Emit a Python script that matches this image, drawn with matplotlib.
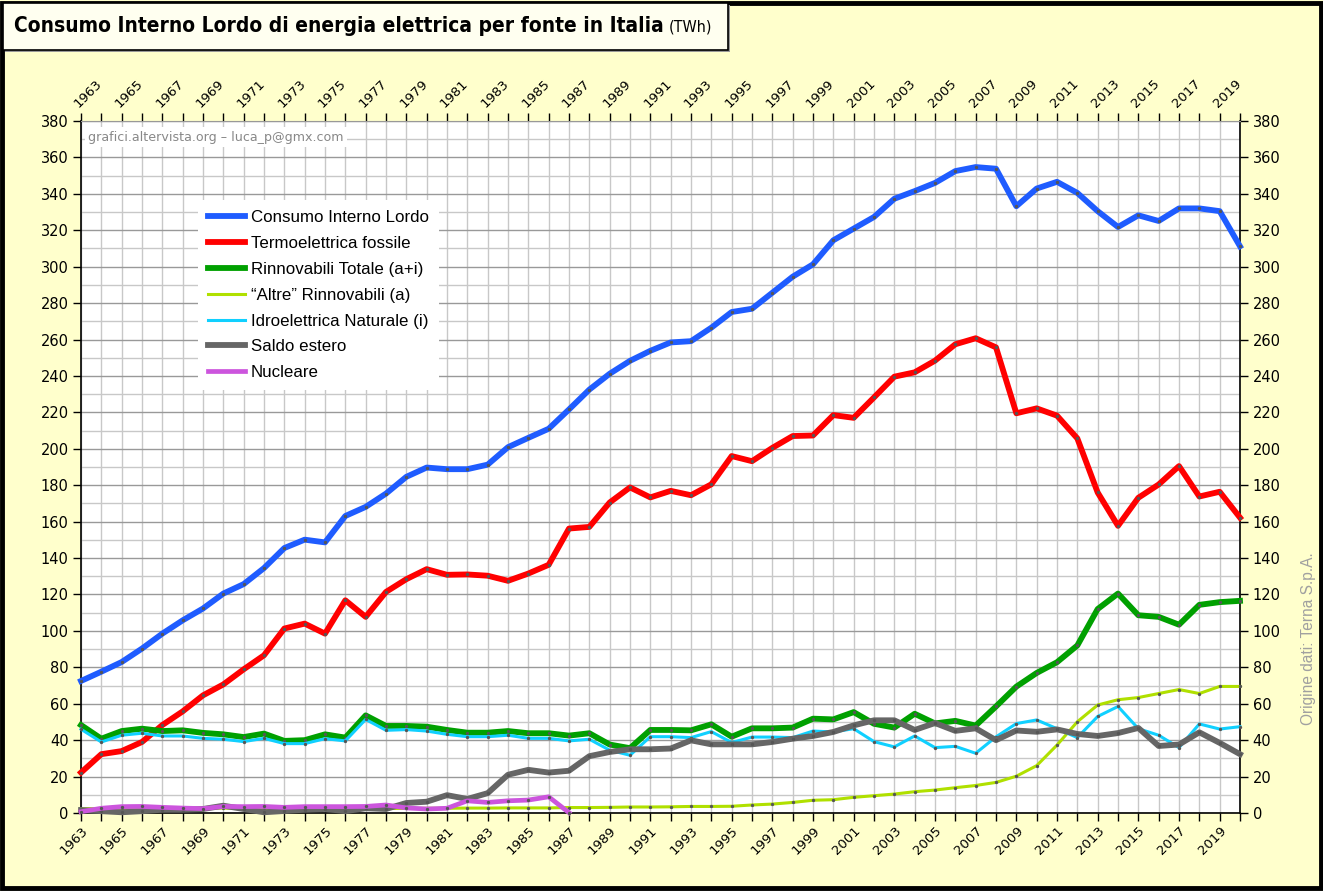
import matplotlib
matplotlib.use("Agg")
import matplotlib.pyplot as plt
from matplotlib.patches import Rectangle
from matplotlib.ticker import MultipleLocator
import numpy as np

years = list(range(1963, 2021))

consumo = [72.5, 77.6, 82.9, 90.3, 98.5, 105.8, 112.3, 120.5, 125.7, 134.5,
           145.5, 150.1, 148.6, 163.1, 168.1, 175.4, 184.6, 189.7, 188.8, 188.8,
           191.3, 200.9, 206.0, 211.0, 221.6, 232.5, 241.2, 248.3, 253.8, 258.4,
           259.1, 266.5, 275.1, 276.9, 285.7, 294.5, 301.3, 314.5, 320.9, 327.3,
           337.3, 341.5, 346.0, 352.5, 354.7, 353.8, 333.2, 342.9, 346.6, 340.5,
           330.5, 321.8, 328.2, 325.1, 332.0, 332.0, 330.5, 311.2]

termo = [22.2, 32.3, 34.0, 39.0, 48.3, 55.8, 64.6, 70.6, 78.9, 86.6,
         101.3, 104.0, 98.5, 116.8, 107.7, 121.4, 128.4, 133.9, 130.8, 131.0,
         130.3, 127.5, 131.5, 136.3, 156.2, 157.1, 170.5, 178.8, 173.3, 176.9,
         174.5, 180.5, 196.0, 193.2, 200.5, 207.0, 207.3, 218.5, 217.0, 228.2,
         239.6, 242.0, 248.4, 257.4, 260.7, 255.7, 219.5, 222.2, 218.2, 205.7,
         176.0, 157.7, 173.1, 180.4, 190.5, 173.8, 176.4, 162.2]

rinnov = [48.3, 40.8, 45.0, 46.3, 45.0, 45.4, 44.0, 43.2, 41.7, 43.6,
          39.6, 40.0, 43.2, 41.4, 53.6, 47.8, 47.8, 47.4, 45.6, 44.1,
          44.1, 45.0, 43.8, 43.8, 42.5, 43.8, 37.6, 35.6, 45.6, 45.6,
          45.4, 48.7, 41.9, 46.5, 46.5, 46.9, 51.8, 51.4, 55.4, 49.0,
          46.9, 54.5, 49.2, 50.6, 48.0, 58.5, 69.4, 76.9, 82.8, 92.0,
          112.0, 120.5, 108.6, 107.7, 103.4, 114.3, 115.8, 116.5]

altre = [2.3, 2.4, 2.5, 2.5, 2.6, 2.6, 2.6, 2.7, 2.5, 2.5,
         2.3, 2.4, 2.5, 2.5, 2.5, 2.5, 2.5, 2.6, 2.6, 2.7,
         2.7, 2.8, 2.8, 2.8, 3.0, 3.0, 3.1, 3.3, 3.3, 3.4,
         3.6, 3.6, 3.7, 4.4, 4.9, 5.8, 7.0, 7.3, 8.6, 9.5,
         10.4, 11.7, 12.6, 13.9, 15.1, 16.8, 20.2, 26.0, 37.3, 50.1,
         59.3, 62.2, 63.4, 65.6, 67.8, 65.6, 69.5, 69.5]

idro = [46.0, 39.0, 42.7, 43.8, 42.3, 42.3, 41.0, 40.5, 39.2, 41.0,
        38.1, 38.1, 40.8, 39.6, 51.4, 45.4, 45.8, 45.0, 43.2, 41.9,
        41.9, 42.7, 41.0, 41.0, 39.6, 40.5, 34.5, 31.7, 41.9, 41.9,
        41.4, 44.7, 38.7, 41.7, 41.7, 41.4, 45.0, 44.5, 46.3, 39.2,
        36.3, 42.3, 35.9, 36.6, 32.8, 41.8, 49.1, 51.1, 46.3, 41.4,
        53.0, 58.5, 46.3, 42.7, 35.9, 48.9, 46.1, 47.4]

saldo = [1.6, 1.0, 0.4, 1.0, 1.8, 1.8, 2.2, 4.0, 2.2, 0.4,
         1.1, 1.8, 2.2, 1.0, 2.6, 2.2, 5.5, 6.2, 9.8, 7.7,
         10.9, 21.0, 23.7, 22.2, 23.2, 31.2, 33.5, 35.0, 35.0, 35.4,
         39.9, 37.7, 37.7, 37.7, 39.0, 40.8, 42.3, 44.5, 48.1, 50.9,
         50.9, 45.6, 49.4, 45.1, 46.5, 40.0, 45.3, 44.6, 45.9, 43.4,
         42.3, 43.9, 46.7, 36.8, 37.6, 44.3, 38.5, 32.3]

nucl_years = list(range(1963, 1988))
nucleare = [0.7, 2.6, 3.5, 3.6, 3.1, 2.7, 2.4, 3.6, 3.5, 3.6,
            3.1, 3.5, 3.5, 3.5, 3.6, 4.4, 2.8, 2.2, 2.6, 6.7,
            5.8, 6.7, 7.1, 8.9, 0.2]

labels = ["Consumo Interno Lordo", "Termoelettrica fossile", "Rinnovabili Totale (a+i)",
          "\u201cAltre\u201d Rinnovabili (a)", "Idroelettrica Naturale (i)", "Saldo estero", "Nucleare"]

W, H = 1323, 891
fig = plt.figure(figsize=(W / 100, H / 100), dpi=100)
fig.patch.set_facecolor("#FFFFCC")

# outer border
fig.patches.append(Rectangle((0.0015, 0.003), 0.997, 0.994, transform=fig.transFigure,
                             fill=False, edgecolor="black", linewidth=3.5))

# title box
fig.patches.append(Rectangle((5 / W, 1 - 52 / H), 725 / W, 47 / H, transform=fig.transFigure,
                             facecolor="#999999", edgecolor="none", zorder=1))
fig.patches.append(Rectangle((3 / W, 1 - 50 / H), 725 / W, 47 / H, transform=fig.transFigure,
                             facecolor="#FFFFF0", edgecolor="black", linewidth=1.2, zorder=2))
t1 = fig.text(14 / W, 1 - 26 / H, "Consumo Interno Lordo di energia elettrica per fonte in Italia",
              fontsize=15.05, fontweight="bold", fontstretch="condensed", family="DejaVu Sans",
              va="center", ha="left", zorder=3)

ax = fig.add_axes([81 / W, 1 - 813 / H, 1159 / W, 692 / H])
ax.set_facecolor("white")
ax.set_xlim(1963, 2020)
ax.set_ylim(0, 380)

styles = [
    (consumo, "#1F5CFF", 4.2),
    (termo, "#FF0000", 4.2),
    (rinnov, "#00A000", 4.2),
    (altre, "#B0E000", 2.2),
    (idro, "#10D0FF", 2.2),
    (saldo, "#666666", 4.2),
]
handles = []
for (vals, col, lw), lab in zip(styles, labels[:6]):
    h, = ax.plot(years, vals, color=col, lw=lw, solid_joinstyle="round",
                 marker="o", markersize=2.4, markerfacecolor="#555555",
                 markeredgewidth=0, label=lab, zorder=3, clip_on=False)
    handles.append(h)
h, = ax.plot(nucl_years, nucleare, color="#CC55DD", lw=3.4, marker="o", markersize=2.4,
             markerfacecolor="#555555", markeredgewidth=0, label=labels[6], zorder=3, clip_on=False)
handles.append(h)

# grid
ax.yaxis.set_major_locator(MultipleLocator(20))
ax.yaxis.set_minor_locator(MultipleLocator(10))
ax.set_xticks(years)
ax.grid(axis="y", which="major", color="#999999", lw=1.0, zorder=0)
ax.grid(axis="y", which="minor", color="#C8C8C8", lw=1.0, zorder=0)
ax.grid(axis="x", which="major", color="#C8C8C8", lw=1.0, zorder=0)
ax.set_axisbelow(True)

xlabels = [str(y) if y % 2 == 1 and y < 2020 else "" for y in years]
ax.set_xticklabels(xlabels)
ax.tick_params(axis="x", which="major", direction="out", length=6, width=1,
               top=True, labeltop=True, labelsize=9.5, pad=2)
ax.tick_params(axis="y", which="major", direction="out", length=6, width=1,
               right=True, labelright=True, labelsize=10.5, pad=3)
ax.tick_params(axis="y", which="minor", length=0)
for tick in ax.xaxis.get_major_ticks():
    tick.label1.set_rotation(45)
    tick.label1.set_ha("right")
    tick.label1.set_va("top")
    tick.label1.set_rotation_mode("anchor")
    tick.label2.set_rotation(45)
    tick.label2.set_ha("left")
    tick.label2.set_va("bottom")
    tick.label2.set_rotation_mode("anchor")

for sp in ["left", "right", "bottom"]:
    ax.spines[sp].set_color("black")
    ax.spines[sp].set_linewidth(1.2)
ax.spines["top"].set_color("#999999")

# watermark
ax.text(0.006, 0.986, "grafici.altervista.org \u2013 luca_p@gmx.com", transform=ax.transAxes,
        fontsize=9.1, color="#888888", family="DejaVu Sans", va="top", ha="left",
        bbox=dict(facecolor="white", edgecolor="none", pad=2.5), zorder=4)

# source text
fig.text(1309 / W, 1 - 639 / H, "Origine dati: Terna S.p.A.", rotation=90, fontsize=11.2,
         color="#A0A0A0", family="Liberation Sans", va="center", ha="center")

leg = ax.legend(handles=handles, loc="upper left", bbox_to_anchor=((198 - 81) / 1159, (813 - 200) / 692),
                frameon=True, fancybox=False, facecolor="white", edgecolor="none", framealpha=1,
                prop={"family": "Liberation Sans", "size": 12.2}, handlelength=2.2,
                handletextpad=0.3, labelspacing=0.64, borderpad=0.6, borderaxespad=0)
leg.set_zorder(5)
for lh in leg.get_lines():
    lh.set_marker("")

fig.canvas.draw()
bb = t1.get_window_extent()
x_end = bb.x1 / W
fig.text(x_end + 5 / W, 1 - 27 / H, "(TWh)", fontsize=11.5, family="DejaVu Sans",
         fontstretch="condensed", va="center", ha="left", zorder=3)

fig.savefig("out.png", dpi=100, facecolor=fig.get_facecolor())
